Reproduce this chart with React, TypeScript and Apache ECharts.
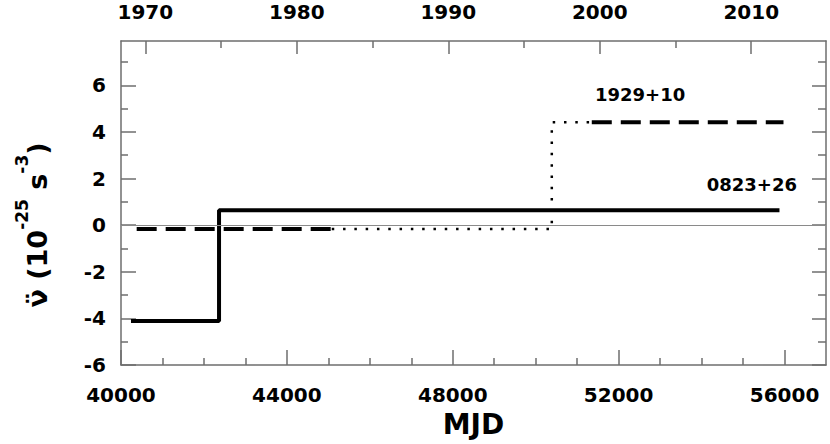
import React, { useEffect, useRef } from 'react';
import * as echarts from 'echarts';

// Tick positions
const mjdMajorTicks = [40000, 44000, 48000, 52000, 56000];
const mjdMinorTicks = [41000, 42000, 43000, 45000, 46000, 47000, 49000, 50000, 51000, 53000, 54000, 55000];
const yearMajorTicks = [1970, 1980, 1990, 2000, 2010];
const yearMinorTicks = [1975, 1985, 1995, 2005];
const yMajorTicks = [-6, -4, -2, 0, 2, 4, 6];
const yMinorTicks = [-5, -3, -1, 1, 3, 5, 7];

// PSR 0823+26 (solid)
const psr0823Mjd = [40241, 42364, 42364, 55878];
const psr0823F2 = [-4.11, -4.11, 0.64, 0.64];

// PSR 1929+10 (dashed / dotted / dashed)
const psr1929DashAMjd = [40378, 45082];
const psr1929DashAF2 = [-0.17, -0.17];
const psr1929DotMjd = [45082, 50388, 50388, 51352];
const psr1929DotF2 = [-0.17, -0.17, 4.41, 4.41];
const psr1929DashBMjd = [51352, 55975];
const psr1929DashBF2 = [4.41, 4.41];

// Curve labels
const labelNames = ['1929+10', '0823+26'];
const labelMjd = [52518, 55211];
const labelF2 = [5.62, 1.73];

const FONT = 'DejaVu Sans';
const AXIS_COLOR = '#6e6e6e';

const yearToMjd = (y: number) => 40587 + (y - 1970) * 365.25;
const mjdToYear = (m: number) => Math.round(1970 + (m - 40587) / 365.25);

const zip = (xs: number[], ys: number[]) => xs.map((x, i) => [x, ys[i]]);

export default function App() {
  const ref = useRef<HTMLDivElement>(null);
  useEffect(() => {
    if (!ref.current) return;
    const chart = echarts.init(ref.current, undefined, { renderer: 'svg' });
    const gridBox = { left: 121, right: 4, top: 41, bottom: 79, show: false };
    const tickStyle = { color: AXIS_COLOR, width: 1.5 };
    const labelStyle = { fontFamily: FONT, fontWeight: 'bold' as const, fontSize: 20, color: '#000' };
    const lineBase = { type: 'line' as const, xAxisIndex: 0, yAxisIndex: 0, symbol: 'none', showSymbol: false, silent: true };
    chart.setOption({
      animation: false,
      grid: [gridBox, { ...gridBox }],
      xAxis: [
        {
          gridIndex: 0, type: 'value', position: 'bottom', min: 40000, max: 57000,
          axisLine: { show: true, onZero: false, lineStyle: tickStyle },
          axisTick: { show: true, inside: true, length: 15, customValues: mjdMajorTicks, lineStyle: tickStyle },
          axisLabel: { show: true, customValues: mjdMajorTicks, margin: 20, formatter: (v: number) => String(v), ...labelStyle },
          splitLine: { show: false },
          name: 'MJD', nameLocation: 'middle', nameGap: 45,
          nameTextStyle: { fontFamily: FONT, fontWeight: 'bold', fontSize: 28, color: '#000' },
        },
        {
          gridIndex: 0, type: 'value', position: 'top', min: 40000, max: 57000,
          axisLine: { show: true, onZero: false, lineStyle: tickStyle },
          axisTick: { show: true, inside: true, length: 13, customValues: yearMajorTicks.map(yearToMjd), lineStyle: tickStyle },
          axisLabel: { show: true, customValues: yearMajorTicks.map(yearToMjd), margin: 19, formatter: (v: number) => String(mjdToYear(v)), ...labelStyle },
          splitLine: { show: false },
        },
        {
          gridIndex: 1, type: 'value', position: 'bottom', min: 40000, max: 57000,
          axisLine: { show: false, onZero: false },
          axisTick: { show: true, inside: true, length: 7, customValues: mjdMinorTicks, lineStyle: tickStyle },
          axisLabel: { show: false },
          splitLine: { show: false },
        },
        {
          gridIndex: 1, type: 'value', position: 'top', min: 40000, max: 57000,
          axisLine: { show: false, onZero: false },
          axisTick: { show: true, inside: true, length: 7, customValues: yearMinorTicks.map(yearToMjd), lineStyle: tickStyle },
          axisLabel: { show: false },
          splitLine: { show: false },
        },
      ],
      yAxis: [
        {
          gridIndex: 0, type: 'value', position: 'left', min: -6, max: 7.9,
          axisLine: { show: true, onZero: false, lineStyle: tickStyle },
          axisTick: { show: true, inside: true, length: 15, customValues: yMajorTicks, lineStyle: tickStyle },
          axisLabel: { show: true, customValues: yMajorTicks, margin: 15, ...labelStyle },
          splitLine: { show: false },
        },
        {
          gridIndex: 0, type: 'value', position: 'right', min: -6, max: 7.9,
          axisLine: { show: true, onZero: false, lineStyle: tickStyle },
          axisTick: { show: true, inside: true, length: 14, customValues: yMajorTicks, lineStyle: tickStyle },
          axisLabel: { show: false },
          splitLine: { show: false },
        },
        {
          gridIndex: 1, type: 'value', position: 'left', min: -6, max: 7.9,
          axisLine: { show: false, onZero: false },
          axisTick: { show: true, inside: true, length: 7, customValues: yMinorTicks, lineStyle: tickStyle },
          axisLabel: { show: false },
          splitLine: { show: false },
        },
        {
          gridIndex: 1, type: 'value', position: 'right', min: -6, max: 7.9,
          axisLine: { show: false, onZero: false },
          axisTick: { show: true, inside: true, length: 8, customValues: yMinorTicks, lineStyle: tickStyle },
          axisLabel: { show: false },
          splitLine: { show: false },
        },
      ],
      graphic: [
        {
          type: 'text', x: 32, y: 225, rotation: Math.PI / 2,
          style: {
            text: '{m|ν̈ (10}{s|-25}{m| s}{s|-3}{m|)}',
            align: 'center', verticalAlign: 'middle',
            rich: {
              m: { fontFamily: FONT, fontWeight: 'bold', fontSize: 27, color: '#000', verticalAlign: 'bottom', lineHeight: 37 },
              s: { fontFamily: FONT, fontWeight: 'bold', fontSize: 17, color: '#000', verticalAlign: 'top', lineHeight: 10 },
            },
          },
        },
      ],
      series: [
        {
          ...lineBase, name: '0823+26', data: zip(psr0823Mjd, psr0823F2),
          lineStyle: { color: '#000', width: 4, type: 'solid' },
          markLine: {
            silent: true, symbol: 'none', label: { show: false },
            lineStyle: { color: '#8a8a8a', width: 1, type: 'solid' },
            data: [{ yAxis: 0 }],
          },
        },
        {
          ...lineBase, name: '1929+10 a', data: zip(psr1929DashAMjd, psr1929DashAF2),
          lineStyle: { color: '#000', width: 4, type: [20, 9] },
        },
        {
          ...lineBase, name: '1929+10 gap', data: zip(psr1929DotMjd, psr1929DotF2),
          lineStyle: { color: '#000', width: 2.5, type: [2.5, 8.8] },
        },
        {
          ...lineBase, name: '1929+10 b', data: zip(psr1929DashBMjd, psr1929DashBF2),
          lineStyle: { color: '#000', width: 4, type: [20, 9] },
        },
        {
          type: 'scatter', xAxisIndex: 0, yAxisIndex: 0, silent: true,
          symbolSize: 1, itemStyle: { color: 'rgba(0,0,0,0)' },
          data: labelMjd.map((x, i) => [x, labelF2[i], labelNames[i]]),
          label: {
            show: true, position: 'inside', formatter: (p: any) => p.data[2],
            fontFamily: FONT, fontWeight: 'bold', fontSize: 18, color: '#000',
            opacity: 1, textBorderWidth: 0,
          },
        },
      ],
    });
    return () => chart.dispose();
  }, []);
  return <div ref={ref} style={{ position: 'fixed', left: 0, top: 0, width: 830, height: 444, background: '#fff' }} />;
}
